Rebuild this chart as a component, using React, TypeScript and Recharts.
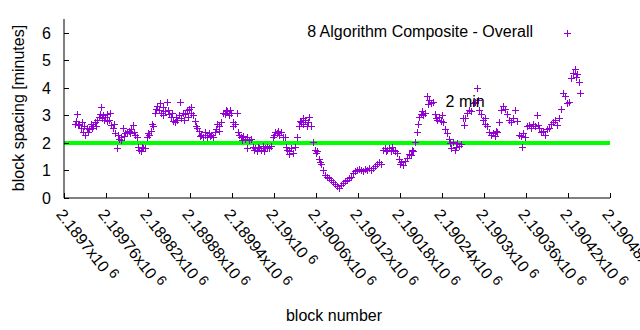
import React from 'react';
import { ScatterChart, Scatter, XAxis, YAxis, ReferenceLine, ReferenceDot, Legend } from 'recharts';

// block heights (x) and block spacing in minutes (y)
const blocks = [
  2189716, 2189717, 2189719, 2189720, 2189721, 2189724, 2189725, 2189727, 2189728, 2189730,
  2189733, 2189734, 2189736, 2189739, 2189740, 2189741, 2189744, 2189745, 2189747, 2189750,
  2189751, 2189753, 2189754, 2189756, 2189757, 2189759, 2189761, 2189762, 2189764, 2189765,
  2189767, 2189770, 2189771, 2189773, 2189776, 2189777, 2189779, 2189781, 2189782, 2189784,
  2189785, 2189787, 2189790, 2189793, 2189794, 2189796, 2189799, 2189800, 2189801, 2189804,
  2189805, 2189807, 2189810, 2189811, 2189813, 2189816, 2189819, 2189820, 2189821, 2189824,
  2189825, 2189827, 2189830, 2189831, 2189833, 2189836, 2189837, 2189839, 2189841, 2189842,
  2189844, 2189847, 2189848, 2189850, 2189853, 2189854, 2189856, 2189859, 2189860, 2189861,
  2189864, 2189865, 2189867, 2189870, 2189871, 2189873, 2189876, 2189877, 2189879, 2189881,
  2189882, 2189884, 2189887, 2189888, 2189890, 2189893, 2189894, 2189896, 2189899, 2189901,
  2189902, 2189904, 2189907, 2189908, 2189910, 2189913, 2189916, 2189917, 2189919, 2189921,
  2189922, 2189924, 2189927, 2189930, 2189931, 2189933, 2189936, 2189937, 2189939, 2189941,
  2189942, 2189944, 2189947, 2189948, 2189950, 2189953, 2189954, 2189956, 2189959, 2189961,
  2189962, 2189964, 2189967, 2189970, 2189971, 2189973, 2189976, 2189977, 2189979, 2189981,
  2189984, 2189985, 2189987, 2189990, 2189993, 2189996, 2189999, 2190000, 2190001, 2190004,
  2190005, 2190007, 2190010, 2190013, 2190016, 2190017, 2190019, 2190021, 2190022, 2190024,
  2190027, 2190030, 2190033, 2190036, 2190037, 2190039, 2190041, 2190042, 2190044, 2190047,
  2190048, 2190050, 2190053, 2190056, 2190059, 2190060, 2190061, 2190064, 2190065, 2190067,
  2190070, 2190073, 2190076, 2190079, 2190081, 2190084, 2190087, 2190090, 2190093, 2190096,
  2190099, 2190101, 2190104, 2190107, 2190110, 2190113, 2190116, 2190119, 2190121, 2190124,
  2190127, 2190130, 2190133, 2190136, 2190139, 2190141, 2190144, 2190147, 2190150, 2190153,
  2190156, 2190159, 2190160, 2190161, 2190164, 2190167, 2190168, 2190170, 2190173, 2190176,
  2190179, 2190180, 2190181, 2190184, 2190187, 2190190, 2190193, 2190196, 2190197, 2190199,
  2190201, 2190204, 2190205, 2190207, 2190210, 2190211, 2190213, 2190216, 2190219, 2190220,
  2190221, 2190224, 2190227, 2190230, 2190231, 2190233, 2190236, 2190239, 2190240, 2190241,
  2190244, 2190247, 2190250, 2190251, 2190253, 2190256, 2190259, 2190260, 2190261, 2190264,
  2190267, 2190270, 2190271, 2190273, 2190276, 2190279, 2190281, 2190284, 2190287, 2190290,
  2190291, 2190293, 2190296, 2190299, 2190301, 2190302, 2190304, 2190307, 2190310, 2190313,
  2190316, 2190317, 2190319, 2190321, 2190324, 2190327, 2190330, 2190333, 2190336, 2190339,
  2190341, 2190344, 2190347, 2190350, 2190353, 2190354, 2190356, 2190359, 2190361, 2190364,
  2190367, 2190370, 2190373, 2190376, 2190377, 2190379, 2190381, 2190384, 2190387, 2190390,
  2190393, 2190396, 2190399, 2190401, 2190404, 2190407, 2190410, 2190413, 2190416, 2190419,
  2190421, 2190424, 2190427, 2190430, 2190431, 2190433, 2190436, 2190437,
];

const spacing = [
  2.7, 2.8, 3.05, 2.7, 2.65, 2.55, 2.75, 2.4, 2.6, 2.3,
  2.55, 2.4, 2.5, 2.7, 2.55, 2.6, 2.75, 2.6, 2.85, 2.95,
  3.05, 3.3, 2.9, 3.0, 2.85, 2.95, 2.8, 3.05, 2.85, 3.1,
  2.65, 2.55, 2.7, 2.35, 1.8, 2.3, 2.15, 2.2, 2.1, 2.55,
  2.25, 2.35, 2.4, 2.45, 2.35, 2.5, 2.65, 2.4, 2.3, 2.2,
  1.85, 1.75, 1.7, 1.85, 1.8, 1.8, 2.2, 2.35, 2.3, 2.45,
  2.7, 2.6, 3.1, 3.25, 3.35, 3.2, 3.45, 3.1, 3.3, 3.0,
  3.15, 3.5, 3.2, 3.05, 2.95, 3.1, 2.8, 2.75, 2.95, 2.85,
  3.0, 3.5, 2.9, 3.1, 2.85, 3.05, 3.2, 2.95, 3.25, 3.1,
  3.3, 3.0, 2.8, 2.6, 2.55, 2.45, 2.25, 2.3, 2.2, 2.3,
  2.4, 2.2, 2.35, 2.25, 2.3, 2.2, 2.4, 2.5, 2.7, 2.6,
  2.45, 2.75, 3.1, 3.05, 3.2, 3.15, 3.0, 3.2, 3.1, 2.75,
  2.6, 2.7, 3.1, 2.4, 2.3, 2.2, 2.1, 2.25, 2.15, 1.8,
  2.2, 2.1, 2.15, 1.85, 1.75, 1.8, 1.7, 1.85, 1.8, 1.75,
  1.9, 1.7, 1.8, 1.85, 1.8, 1.9, 2.2, 2.3, 2.4, 2.35,
  2.45, 2.3, 2.4, 2.2, 2.2, 1.85, 1.75, 1.7, 1.6, 1.8,
  1.65, 1.85, 2.2, 2.6, 2.8, 2.75, 2.9, 2.7, 2.85, 2.6,
  2.75, 2.95, 2.6, 2.05, 1.75, 1.65, 1.7, 1.4, 1.3, 1.25,
  1.0, 0.85, 0.78, 0.72, 0.65, 0.58, 0.52, 0.45, 0.38, 0.48,
  0.55, 0.6, 0.65, 0.72, 0.78, 0.9, 0.98, 1.0, 1.05, 1.0,
  0.98, 1.05, 1.02, 1.08, 1.0, 1.1, 1.15, 1.25, 1.3, 1.22,
  1.75, 1.8, 1.7, 1.75, 1.8, 1.7, 1.85, 1.75, 1.7, 1.65,
  1.4, 1.25, 1.3, 1.2, 1.35, 1.45, 1.6, 1.55, 1.75, 1.7,
  2.05, 2.4, 2.7, 2.95, 3.05, 3.15, 3.0, 3.1, 3.7, 3.4,
  3.55, 3.45, 3.5, 3.05, 2.9, 2.85, 2.95, 2.8, 3.0, 2.75,
  2.5, 2.35, 2.15, 2.0, 1.8, 2.05, 1.75, 1.85, 2.0, 1.9,
  1.95, 2.9, 2.65, 2.9, 3.1, 3.2, 3.15, 3.45, 3.5, 4.0,
  3.55, 3.2, 3.05, 2.85, 2.7, 2.9, 2.6, 2.4, 2.3, 2.35,
  2.25, 2.45, 2.4, 2.75, 3.2, 3.35, 3.25, 3.05, 2.85, 2.75,
  2.9, 3.2, 2.8, 2.3, 2.25, 1.85, 2.35, 2.2, 2.6, 2.65,
  2.55, 2.7, 2.6, 3.0, 2.65, 2.55, 2.4, 2.45, 2.3, 2.5,
  2.55, 2.7, 2.75, 2.85, 2.65, 2.9, 3.25, 3.8, 3.7, 3.45,
  3.5, 4.35, 4.55, 4.7, 4.4, 4.5, 4.2, 3.8,
];

const xTicks = [
  2189700, 2189760, 2189820, 2189880, 2189940, 2190000, 2190060,
  2190120, 2190180, 2190240, 2190300, 2190360, 2190420, 2190480,
];
const yTicks = [0, 1, 2, 3, 4, 5, 6];

const seriesName = '8 Algorithm Composite - Overall';
const targetMinutes = 2;
const targetLabel = '2 min';
const targetLabelBlock = 2190273;
const targetLabelMinutes = 3.5;

const data = blocks.map((b, i) => ({ block: b, minutes: spacing[i] }));

const FONT = '"Liberation Sans", Arial, sans-serif';
const PURPLE = '#9400d3';

const Plus = (props: any) => {
  const { cx, cy } = props;
  if (cx == null || cy == null) return null;
  const n = Math.round(cx);
  const m = Math.round(cy);
  return (
    <path
      d={`M${n - 3} ${m + 0.5}h7M${n + 0.5} ${m - 3}v7`}
      stroke={PURPLE}
      strokeWidth={1}
      fill="none"
      shapeRendering="crispEdges"
    />
  );
};

const BottomTick = (props: any) => {
  const { x, y, payload } = props;
  const px = Math.round(x) + 0.5;
  const label = String(parseFloat((payload.value / 1e6).toFixed(5)));
  return (
    <g>
      <line x1={px} y1={y} x2={px} y2={y - 5} stroke="#000" shapeRendering="crispEdges" />
      <text transform={`translate(${x + 1},${y + 9}) rotate(52)`} x={0} y={12} fontFamily={FONT} fontSize={16} fill="#000">
        {label}x10<tspan dx={4} dy={-5} fontSize={14}>6</tspan>
      </text>
    </g>
  );
};

const TopTick = (props: any) => {
  const { x, y } = props;
  const px = Math.round(x) + 0.5;
  return <line x1={px} y1={y} x2={px} y2={y + 5} stroke="#000" shapeRendering="crispEdges" />;
};

const LeftTick = (props: any) => {
  const { x, y, payload } = props;
  const py = Math.round(y) + 0.5;
  return (
    <g>
      <line x1={x} y1={py} x2={x + 5} y2={py} stroke="#000" shapeRendering="crispEdges" />
      <text x={x - 13} y={y + 6} textAnchor="end" fontFamily={FONT} fontSize={16} fill="#000">
        {payload.value}
      </text>
    </g>
  );
};

const RightTick = (props: any) => {
  const { x, y } = props;
  const py = Math.round(y) + 0.5;
  return <line x1={x} y1={py} x2={x - 5} y2={py} stroke="#000" shapeRendering="crispEdges" />;
};

const XTitle = () => (
  <text x={334} y={321} textAnchor="middle" fontFamily={FONT} fontSize={16} fill="#000">
    block number
  </text>
);

const YTitle = () => (
  <text transform="translate(24,108) rotate(-90)" textAnchor="middle" fontFamily={FONT} fontSize={16} fill="#000">
    block spacing [minutes]
  </text>
);

const KeyBox = (props: any) => {
  const name = props.payload?.[0]?.value ?? seriesName;
  return (
    <svg width={640} height={45}>
      <text x={533} y={37} textAnchor="end" fontFamily={FONT} fontSize={16} fill="#000">{name}</text>
      <path d="M564 33.5h7M567.5 30v7" stroke={PURPLE} strokeWidth={1} fill="none" shapeRendering="crispEdges" />
    </svg>
  );
};

export default function App() {
  return (
    <div style={{ position: 'absolute', left: 0, top: 0, width: 640, height: 330, background: '#fff' }}>
      <ScatterChart width={640} height={330} margin={{ top: 19, right: 30, bottom: 0, left: 0 }}>
        <XAxis
          type="number"
          dataKey="block"
          domain={[2189700, 2190480]}
          ticks={xTicks}
          interval={0}
          height={132}
          tickLine={false}
          tickSize={0}
          tickMargin={0}
          axisLine={{ stroke: '#000' }}
          tick={<BottomTick />}
          label={<XTitle />}
        />
        <XAxis
          xAxisId="top"
          orientation="top"
          type="number"
          domain={[2189700, 2190480]}
          ticks={xTicks}
          interval={0}
          height={0}
          tickLine={false}
          tickSize={0}
          tickMargin={0}
          axisLine={{ stroke: '#000' }}
          tick={<TopTick />}
        />
        <YAxis
          type="number"
          dataKey="minutes"
          domain={[0, 6.5]}
          ticks={yTicks}
          interval={0}
          width={64}
          tickLine={false}
          tickSize={0}
          tickMargin={0}
          axisLine={{ stroke: '#000' }}
          tick={<LeftTick />}
          label={<YTitle />}
        />
        <YAxis
          yAxisId="right"
          orientation="right"
          type="number"
          domain={[0, 6.5]}
          ticks={yTicks}
          interval={0}
          width={0}
          tickLine={false}
          tickSize={0}
          tickMargin={0}
          axisLine={{ stroke: '#000' }}
          tick={<RightTick />}
        />
        <Legend
          layout="horizontal"
          verticalAlign="middle"
          align="center"
          content={<KeyBox />}
          wrapperStyle={{ position: 'absolute', left: 0, top: 0, width: 640, height: 45 }}
        />
        <Scatter name={seriesName} data={data} shape={<Plus />} isAnimationActive={false} />
        <ReferenceLine y={targetMinutes} stroke="#00ff00" strokeWidth={4} />
        <ReferenceDot
          x={targetLabelBlock}
          y={targetLabelMinutes}
          r={1}
          fill="none"
          stroke="none"
          label={{ value: targetLabel, position: 'center', fill: '#000', fontSize: 16, fontFamily: FONT }}
        />
      </ScatterChart>
    </div>
  );
}
